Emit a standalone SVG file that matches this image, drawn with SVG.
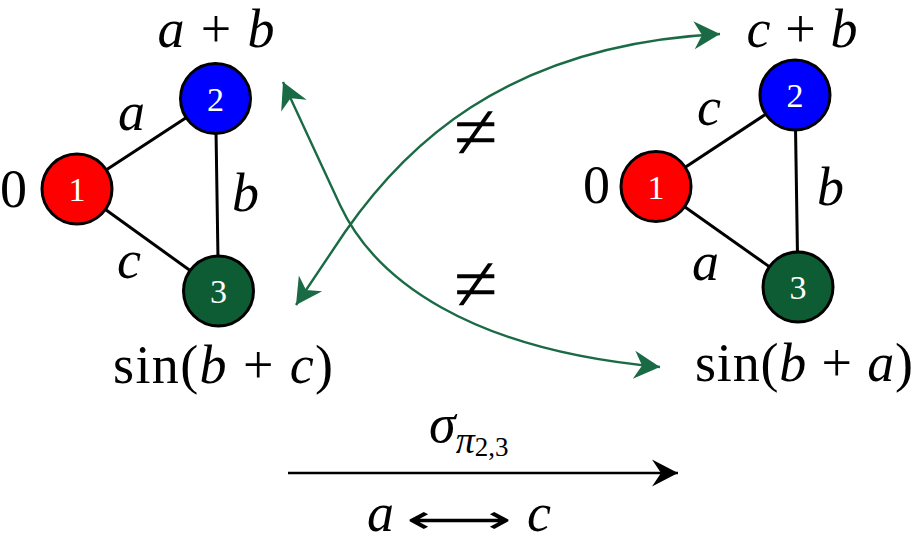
<svg xmlns="http://www.w3.org/2000/svg" width="918" height="543" viewBox="0 0 918 543">
<style>
.m{font-family:"Liberation Serif","DejaVu Serif",serif;font-size:54px;fill:#000}
.i{font-style:italic}
.d{font-family:"Liberation Serif","DejaVu Serif",serif;font-size:34px;fill:#fff;text-anchor:middle}
.nd{stroke:#000;stroke-width:3}
.e{stroke:#000;stroke-width:3;fill:none}
.g{stroke:#1a6b45;stroke-width:2.4;fill:none}
.ne{font-family:"Liberation Serif","DejaVu Serif",serif;font-size:80px;fill:#000;text-anchor:middle}
</style>
<defs>
<marker id="ga" viewBox="-27 -15 29 30" refX="0" refY="0" markerWidth="29" markerHeight="30" markerUnits="userSpaceOnUse" orient="auto-start-reverse">
<path d="M0,0 L-26,-14 L-18,0 L-26,14 Z" fill="#1a6b45"/>
</marker>
<marker id="ba" viewBox="-27 -15 29 30" refX="0" refY="0" markerWidth="29" markerHeight="30" markerUnits="userSpaceOnUse" orient="auto">
<path d="M0,0 L-26,-13.5 L-17,0 L-26,13.5 Z" fill="#000"/>
</marker>
</defs>
<rect width="918" height="543" fill="#fff"/>
<g id="connectors">
<line class="e" x1="77" y1="189" x2="215.5" y2="98.5"/>
<line class="e" x1="215.5" y1="98.5" x2="218.5" y2="291"/>
<line class="e" x1="77" y1="189" x2="218.5" y2="291"/>
<line class="e" x1="656" y1="186.5" x2="795" y2="95"/>
<line class="e" x1="795" y1="95" x2="798" y2="287"/>
<line class="e" x1="656" y1="186.5" x2="798" y2="287"/>
<path class="g" d="M283,82 L340,205 C375,280 470,350 660,367" marker-start="url(#ga)" marker-end="url(#ga)"/>
<path class="g" d="M296,305 L345,232 C400,153 500,45 720,34" marker-start="url(#ga)" marker-end="url(#ga)"/>
<line x1="288" y1="473" x2="678" y2="473" stroke="#000" stroke-width="2.4" marker-end="url(#ba)"/>
<text class="m i" x="118" y="130">a</text>
<text class="m i" x="232" y="211">b</text>
<text class="m i" x="117" y="278">c</text>
<text class="m i" x="697" y="125">c</text>
<text class="m i" x="817" y="205">b</text>
<text class="m i" x="692" y="280">a</text>
<text class="ne" x="476" y="159">≠</text>
<text class="ne" x="476" y="311">≠</text>
<text class="m" x="429" y="442"><tspan class="i">σ</tspan><tspan class="i" font-size="38" dy="11">π</tspan><tspan font-size="27" dy="3">2,3</tspan></text>
<text class="m i" x="367" y="531" font-size="52">a</text>
<text x="406" y="533" font-family="DejaVu Sans, sans-serif" font-size="40" textLength="106" lengthAdjust="spacingAndGlyphs">⟷</text>
<text class="m i" x="527" y="531" font-size="52">c</text>
</g>
<g id="L1">
<circle class="nd" cx="77" cy="189" r="35" fill="#ff0000"/>
<text class="d" x="77" y="201">1</text>
<text class="m" x="0" y="207">0</text>
</g>
<g id="L2">
<circle class="nd" cx="215.5" cy="98.5" r="35" fill="#0000ff"/>
<text class="d" x="215.5" y="110.5">2</text>
<text class="m" x="216" y="47" text-anchor="middle" font-size="50" textLength="117"><tspan class="i">a</tspan> + <tspan class="i">b</tspan></text>
</g>
<g id="L3">
<circle class="nd" cx="218.5" cy="291" r="35" fill="#0d5c33"/>
<text class="d" x="218.5" y="303">3</text>
<text class="m" x="113" y="383" textLength="220">sin(<tspan class="i">b</tspan> + <tspan class="i">c</tspan>)</text>
</g>
<g id="R1">
<circle class="nd" cx="656" cy="186.5" r="35" fill="#ff0000"/>
<text class="d" x="656" y="198.5">1</text>
<text class="m" x="583" y="203">0</text>
</g>
<g id="R2">
<circle class="nd" cx="795" cy="95" r="35" fill="#0000ff"/>
<text class="d" x="795" y="107">2</text>
<text class="m" x="802" y="47" text-anchor="middle" font-size="50" textLength="111"><tspan class="i">c</tspan> + <tspan class="i">b</tspan></text>
</g>
<g id="R3">
<circle class="nd" cx="798" cy="287" r="35" fill="#0d5c33"/>
<text class="d" x="798" y="299">3</text>
<text class="m" x="695" y="381" textLength="218">sin(<tspan class="i">b</tspan> + <tspan class="i">a</tspan>)</text>
</g>
</svg>
